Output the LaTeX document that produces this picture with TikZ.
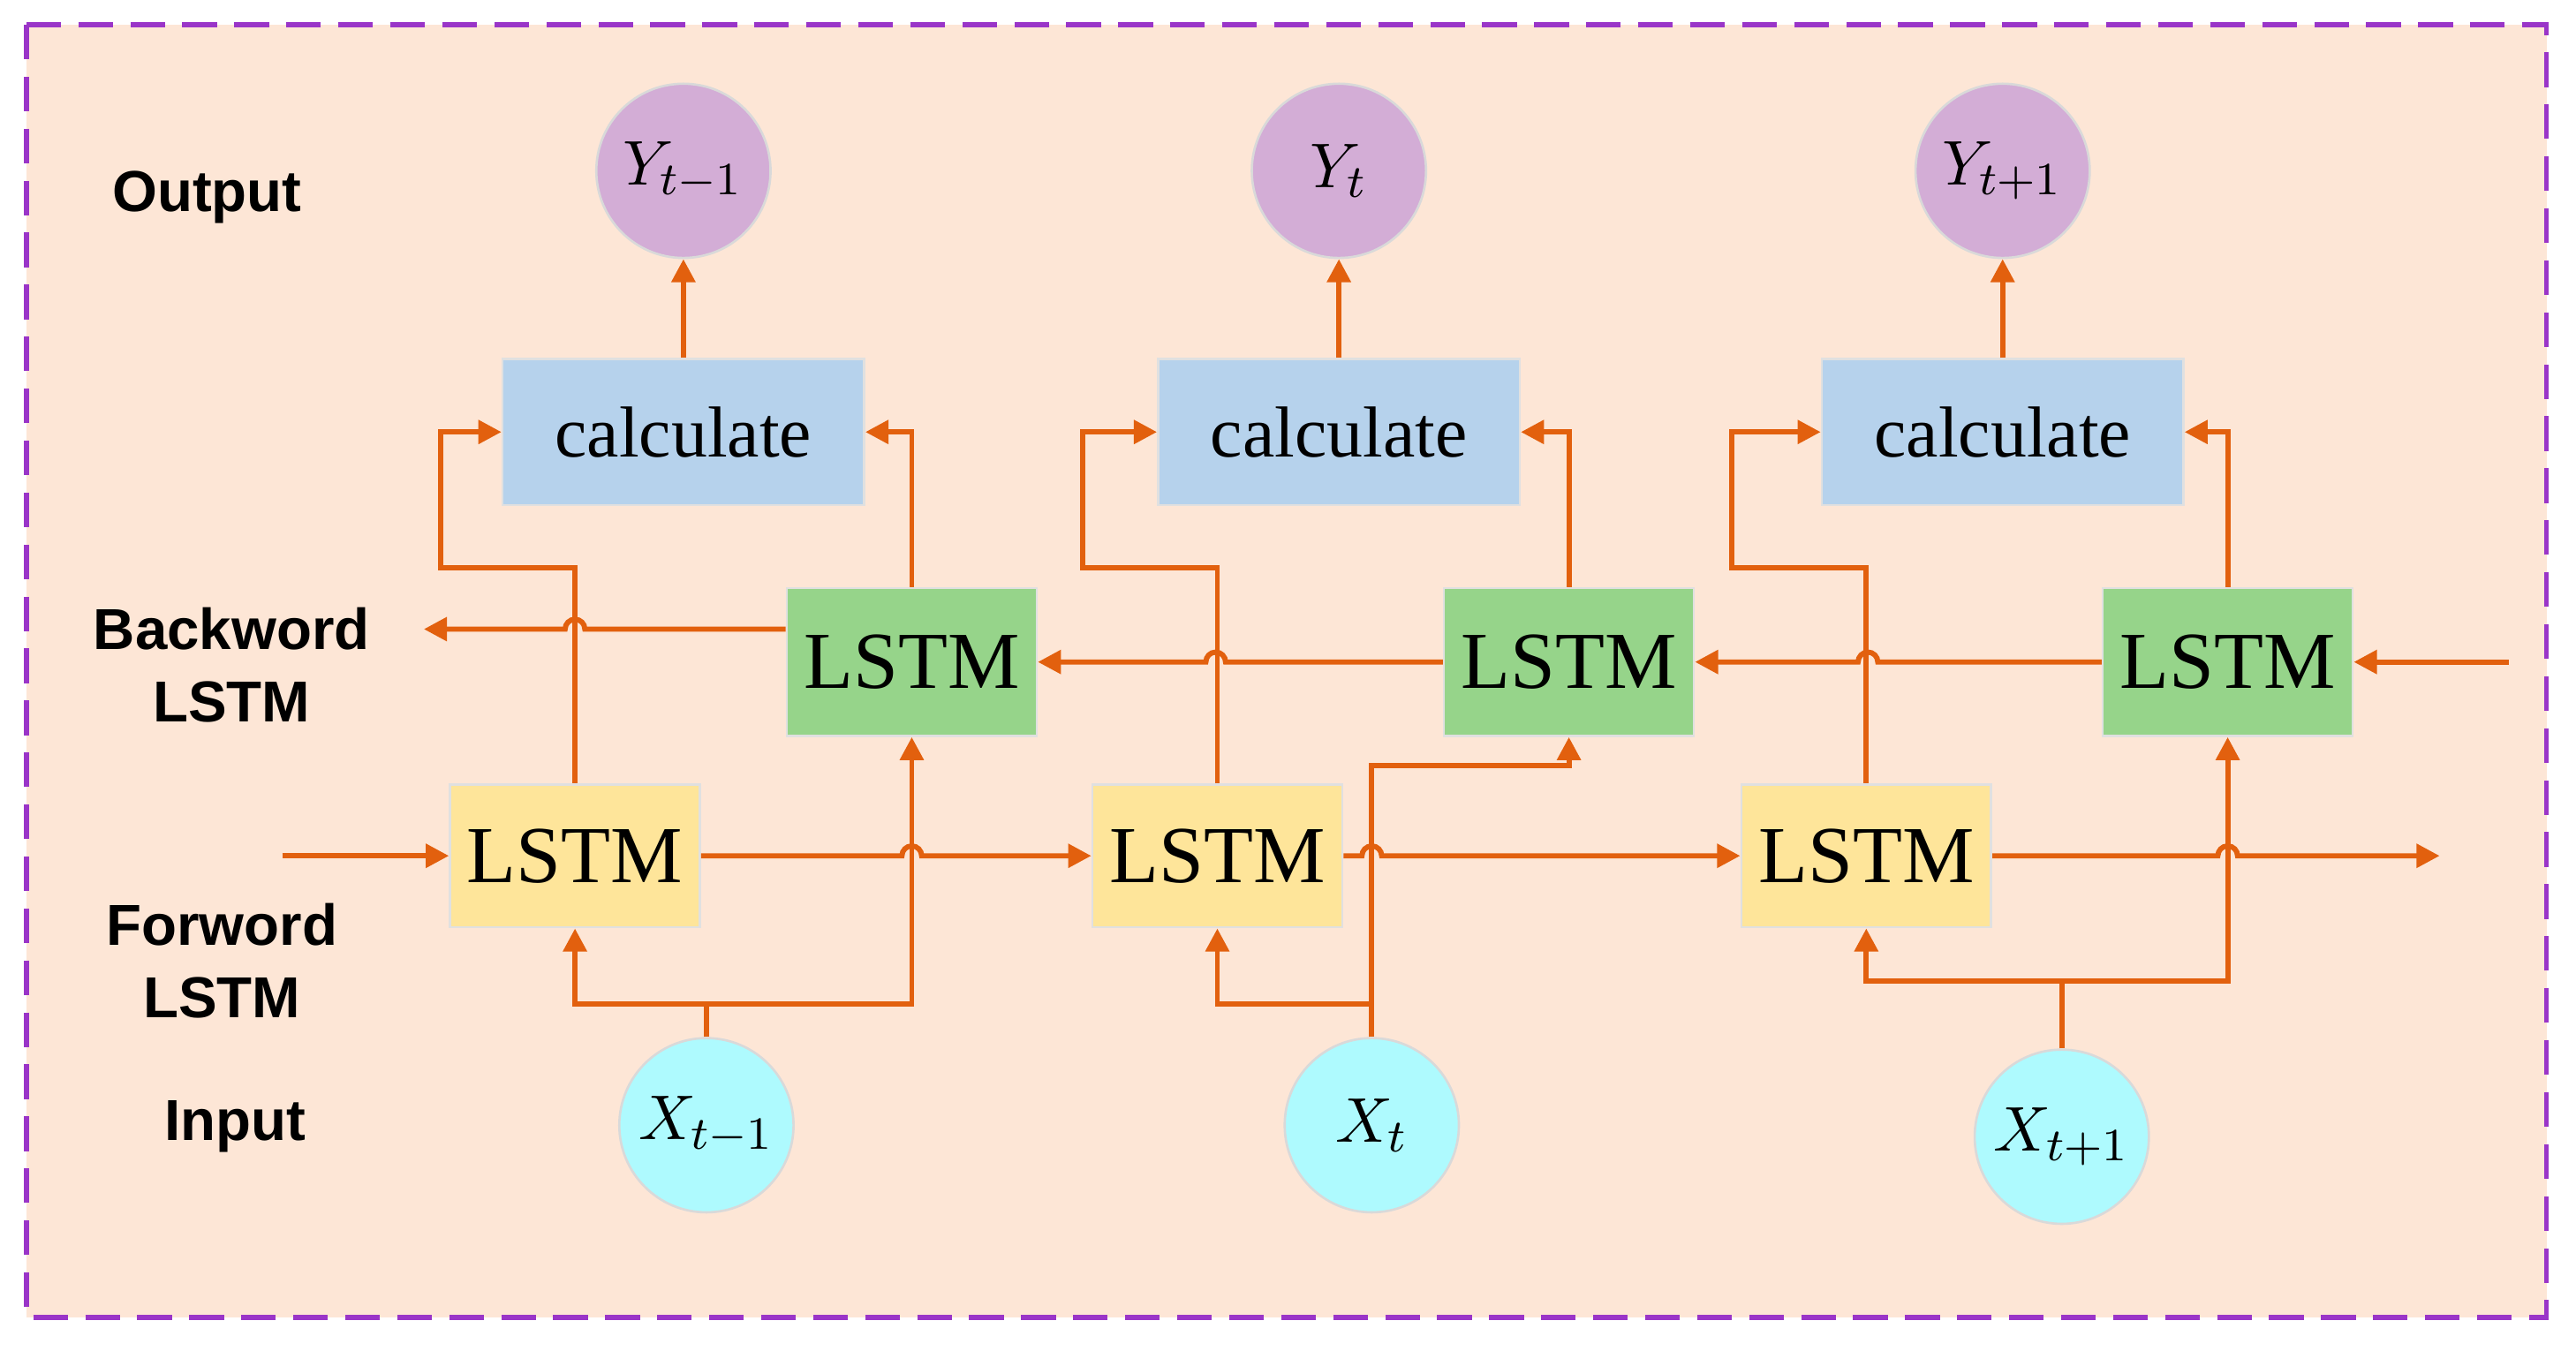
\documentclass[tikz,border=0pt]{standalone}
\usepackage{fontspec}
\setmainfont{Liberation Serif}
\newfontfamily\lblfont{Liberation Sans}
\usetikzlibrary{arrows.meta,positioning}
\definecolor{Peach}{HTML}{FDE6D6}
\definecolor{Frame}{HTML}{9A35C8}
\definecolor{Wire}{HTML}{E2600E}
\definecolor{OutC}{HTML}{D3ADD6}
\definecolor{InC}{HTML}{AEFAFE}
\definecolor{CalcC}{HTML}{B6D2EC}
\definecolor{BackC}{HTML}{96D48A}
\definecolor{ForC}{HTML}{FEE59A}

\begin{document}
\begin{tikzpicture}[
        x=0.01cm, y=-0.01cm,
        >={Triangle[length=4pt,width=4pt]},
        %Node styles.
        outNode/.style={circle, inner sep=0pt, minimum size=1.06cm, fill=OutC, draw=black!15},
        inNode/.style={circle, inner sep=0pt, minimum size=1.06cm, fill=InC, draw=black!15},
        calcBox/.style={rectangle, inner sep=0pt, minimum width=2.2cm, minimum height=0.89cm,
            fill=CalcC, draw=black!12, font=\fontsize{12.5}{14}\selectfont},
        bBox/.style={rectangle, inner sep=0pt, minimum width=1.52cm, minimum height=0.9cm,
            fill=BackC, draw=black!12, font=\fontsize{14}{16}\selectfont},
        fBox/.style={rectangle, inner sep=0pt, minimum width=1.52cm, minimum height=0.87cm,
            fill=ForC, draw=black!12, font=\fontsize{14}{16}\selectfont},
        lbl/.style={font=\lblfont\bfseries\fontsize{10}{12.5}\selectfont, align=center},
        wire/.style={Wire, line width=0.9pt},
        arr/.style={wire, ->},
        hopR/.style={insert path={arc[start angle=180,end angle=0,radius=0.06cm]}},
        hopL/.style={insert path={arc[start angle=0,end angle=180,radius=0.06cm]}},
    ]
    \useasboundingbox (0,0) rectangle (1568,822);
    \draw[Frame, line width=0.9pt, dash pattern=on 6pt off 3pt, fill=Peach]
        (16,15) rectangle (1550,802);

    %Side labels.
    \node[lbl] (lOut) at (126,120) {Output};
    \node[lbl] (lBack) at (141,405) {Backword\\LSTM};
    \node[lbl] (lFor) at (135,585) {Forword\\LSTM};
    \node[lbl] (lIn) at (143,686) {Input};

    %One column per time step.
    \foreach \i/\cx/\bx/\fx/\xx/\xy/\sub in
        {1/416/555/350/430/685/{t-1}, 2/815/955/741/835/685/{t}, 3/1219/1356/1136/1255/692/{t+1}}{
        \node[outNode] (Y\i) at (\cx,104) {\fontsize{11}{12}\selectfont$Y_{\sub}$};
        \node[calcBox] (C\i) at (\cx,263) {calculate};
        \node[bBox] (B\i) at (\bx,403) {LSTM};
        \node[fBox] (F\i) at (\fx,521) {LSTM};
        \node[inNode] (X\i) at (\xx,\xy) {\fontsize{11}{12}\selectfont$X_{\sub}$};
        \draw[arr] (C\i.north) -- (Y\i.south);
        \draw[arr] (B\i.north) |- (C\i.east);
        \draw[arr] (F\i.north) -- ++(0,-131) -- ++(-82,0) |- (C\i.west);
    }

    %Chain ends.
    \coordinate (fin) at (172,521);
    \coordinate (fout) at (1485,521);
    \coordinate (bin) at (1527,403);
    \coordinate (bout) at (258,383);

    %Forward chain.
    \draw[arr] (fin) -- (F1.west);
    \draw[arr] (F1.east) -- (549,521) [hopR] -- (F2.west);
    \draw[arr] (F2.east) -- (829,521) [hopR] -- (F3.west);
    \draw[arr] (F3.east) -- (1350,521) [hopR] -- (fout);

    %Backward chain.
    \draw[arr] (bin) -- (B3.east);
    \draw[arr] (B3.west) -- (1143,403) [hopL] -- (B2.east);
    \draw[arr] (B2.west) -- (746,403) [hopL] -- (B1.east);
    \draw[arr] ([yshift=0.2cm]B1.west) -- (356,383) [hopL] -- (bout);

    %Inputs.
    \draw[arr] (X1.north) -- ++(0,-20) -| (F1.south);
    \draw[arr] (X1.north) ++(0,-20) -| (B1.south);
    \draw[arr] (X2.north) -- ++(0,-20) -| (F2.south);
    \draw[arr] (X2.north) -- (835,466) -| (B2.south);
    \draw[arr] (X3.north) -- ++(0,-41) -| (F3.south);
    \draw[arr] (X3.north) ++(0,-41) -| (B3.south);
\end{tikzpicture}
\end{document}
